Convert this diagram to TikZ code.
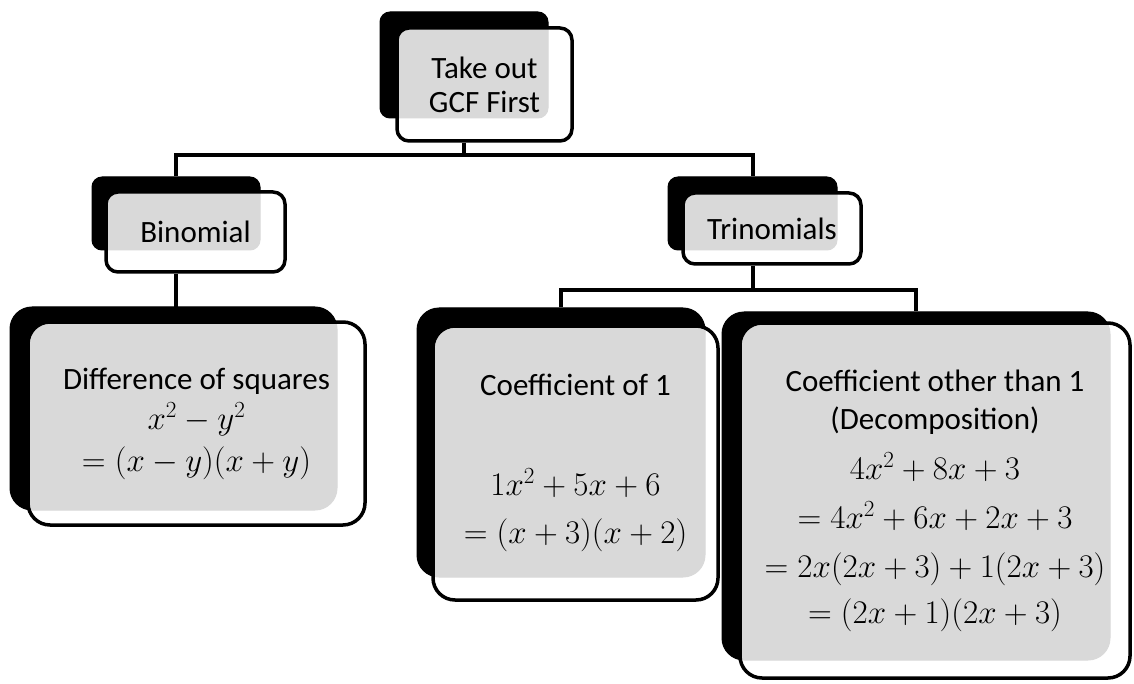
\RequirePackage{fix-cm}
\documentclass[tikz,border=0pt]{standalone}
\usepackage{fontspec}
\setmainfont{Carlito}
\newcommand\mline[1]{{\fontsize{33}{38}\selectfont$#1$}}
\tikzset{
  shadebox/.style={fill=black, draw=black, line width=1pt, rounded corners=#1, inner sep=0pt},
  frontbox/.style={fill=white, fill opacity=0.85, text opacity=1, draw=black, draw opacity=1,
    line width=3.5pt, rounded corners=#1, inner sep=0pt, align=center,
    font=\fontsize{31}{38}\selectfont},
  conn/.style={line width=4pt, draw=black},
}
\begin{document}
\begin{tikzpicture}[x=1pt,y=-1pt]
\useasboundingbox[fill=white] (0,0) rectangle (1134,684);
\coordinate (j1) at (0,155);
\coordinate (j2) at (0,290);

% shadows
\node[shadebox=10pt, minimum width=168pt, minimum height=106pt] (topS) at (464,65) {};
\node[shadebox=10pt, minimum width=168pt, minimum height=73pt] (binS) at (176,213.5) {};
\node[shadebox=10pt, minimum width=169pt, minimum height=73pt] (trS) at (752.5,213.5) {};

% fronts
\node[frontbox=12pt, minimum width=175pt, minimum height=113pt] (top) at (484.5,84.5) {Take out\\[-4pt]GCF First};
\node[frontbox=12pt, minimum width=179pt, minimum height=80pt] (bin) at (195.5,232) {Binomial};
\node[frontbox=12pt, minimum width=178pt, minimum height=71pt] (tr) at (772,228.5) {Trinomials};

% connectors
\draw[conn] (top.south -| topS.center) -- (topS.center |- j1);
\draw[conn] (binS.north) -- (binS.north |- j1) -- (trS.north |- j1) -- (trS.north);
\draw[conn] (bin.south -| binS.center) -- ++(0,36);
\draw[conn] (tr.south -| trS.center) -- (trS.center |- j2);

% lower shadows and fronts
\node[shadebox=22pt, minimum width=327pt, minimum height=203pt] (diffS) at (173.5,408.5) {};
\node[frontbox=22pt, minimum width=337pt, minimum height=203pt] (diff) at (196.5,423.5)
  {Difference of squares\\[2pt]\mline{x^2-y^2}\\[4pt]\mline{=(x-y)(x+y)}};

\node[shadebox=22pt, minimum width=288pt, minimum height=269pt] (coefS) at (561,442.5) {};
\node[frontbox=22pt, minimum width=285pt, minimum height=274pt] (coef) at (575.5,463)
  {Coefficient of 1\\[62pt]\mline{1x^2+5x+6}\\[10pt]\mline{=(x+3)(x+2)}};

\node[shadebox=22pt, minimum width=388pt, minimum height=348pt] (bigS) at (916,486) {};
\node[frontbox=22pt, minimum width=390pt, minimum height=355pt] (big) at (935,500.5)
  {Coefficient other than 1\\(Decomposition)\\[12pt]\mline{4x^2+8x+3}\\[11pt]\mline{=4x^2+6x+2x+3}\\[11pt]\mline{=2x(2x+3)+1(2x+3)}\\[8pt]\mline{=(2x+1)(2x+3)}};

\draw[conn] (coefS.north) -- (coefS.north |- j2) -- (bigS.north |- j2) -- (bigS.north);
\end{tikzpicture}
\end{document}
